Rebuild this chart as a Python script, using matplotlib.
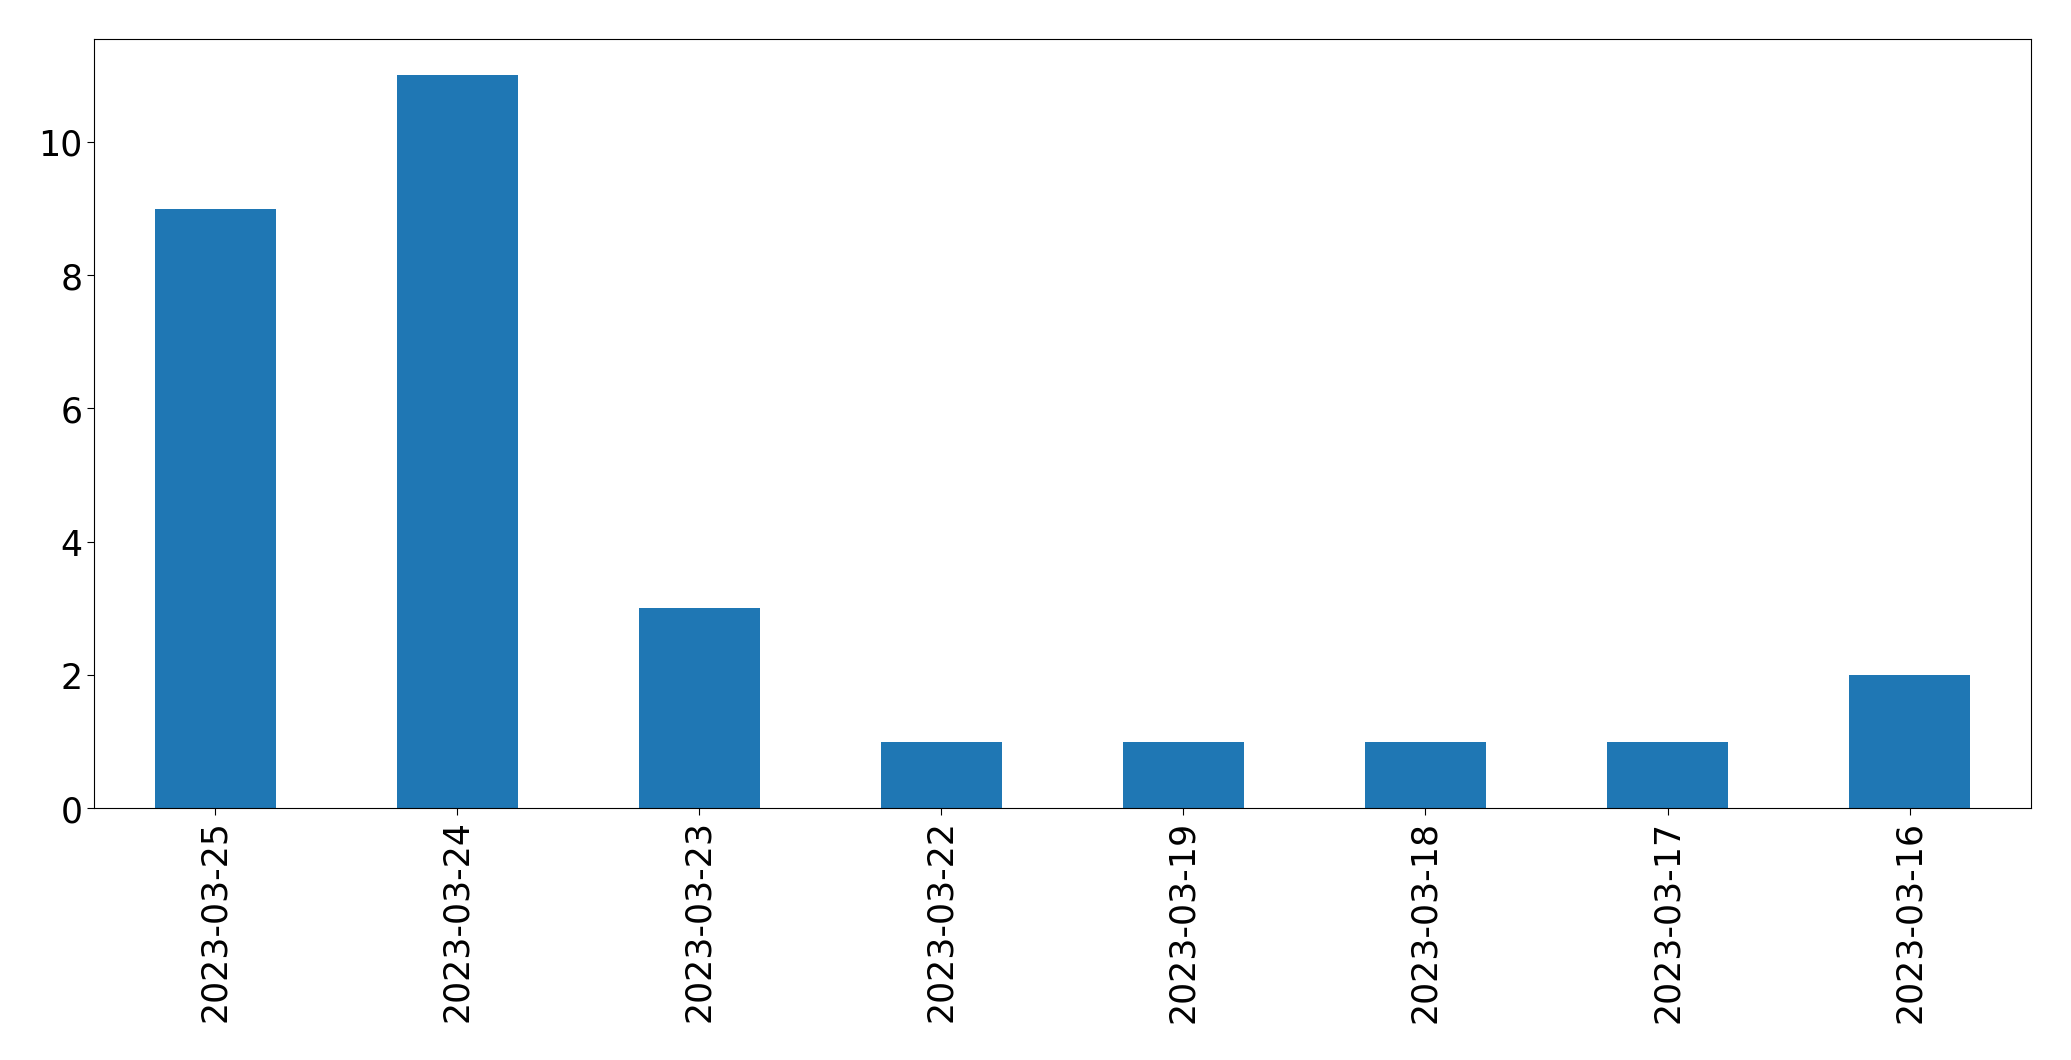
import matplotlib

matplotlib.use("Agg")
import matplotlib.pyplot as plt
import pandas as pd

dates = [
    "2023-03-25",
    "2023-03-24",
    "2023-03-23",
    "2023-03-22",
    "2023-03-19",
    "2023-03-18",
    "2023-03-17",
    "2023-03-16",
]
counts = [9, 11, 3, 1, 1, 1, 1, 2]


def main() -> None:
    series = pd.Series(counts, index=dates)

    fig = plt.figure(figsize=(20.71, 10.605), dpi=100)
    ax = fig.add_axes([0.0455, 0.2375, 0.935, 0.7255])
    series.plot(kind="bar", ax=ax, color="#1f77b4")

    ax.tick_params(axis="both", labelsize=25, length=5)
    ax.set_xlabel("")

    fig.savefig("out.png", dpi=100)


if __name__ == "__main__":
    main()
